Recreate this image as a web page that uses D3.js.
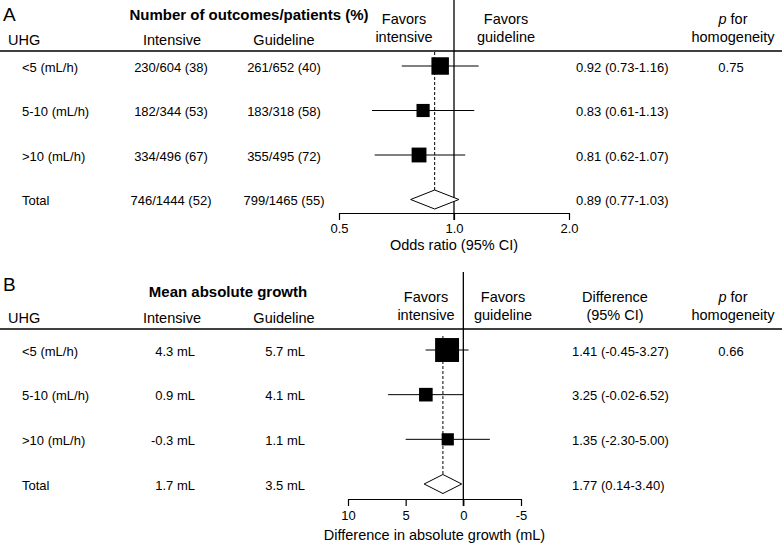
<!DOCTYPE html>
<html>
<head>
<meta charset="utf-8">
<script src="https://cdn.jsdelivr.net/npm/d3@7"></script>
<style>
  html, body { margin: 0; padding: 0; background: #fff; }
  svg { display: block; font-family: "Liberation Sans", Arial, sans-serif; }
</style>
</head>
<body>
<div id="chart"></div>
<script>
// rows
const subgroups = ["<5 (mL/h)", "5-10 (mL/h)", ">10 (mL/h)", "Total"];

// panel A: outcomes / odds ratios
const outcomesIntensive = ["230/604 (38)", "182/344 (53)", "334/496 (67)", "746/1444 (52)"];
const outcomesGuideline = ["261/652 (40)", "183/318 (58)", "355/495 (72)", "799/1465 (55)"];
const orEst = [0.92, 0.83, 0.81, 0.89];
const orLow = [0.73, 0.61, 0.62, 0.77];
const orHigh = [1.16, 1.13, 1.07, 1.03];
const orTicks = [0.5, 1.0, 2.0];
const pA = "0.75";

// panel B: absolute growth / differences
const growthIntensive = ["4.3 mL", "0.9 mL", "-0.3 mL", "1.7 mL"];
const growthGuideline = ["5.7 mL", "4.1 mL", "1.1 mL", "3.5 mL"];
const diffEst = [1.41, 3.25, 1.35, 1.77];
const diffLow = [-0.45, -0.02, -2.30, 0.14];
const diffHigh = [3.27, 6.52, 5.00, 3.40];
const diffTicks = [10, 5, 0, -5];
const pB = "0.66";

const W = 782, H = 547;
const headSize = "14.5px", cellSize = "13px";

const svg = d3.select("#chart").append("svg")
    .attr("width", W)
    .attr("height", H);

function txt(g, x, y, s, opts = {}) {
    return g.append("text")
        .attr("x", x)
        .attr("y", y)
        .attr("text-anchor", opts.anchor || "middle")
        .style("font-size", opts.size || headSize)
        .style("font-weight", opts.bold ? "bold" : null)
        .style("fill", "#000")
        .text(s);
}

function homogeneity(g, x, y1, y2) {
    const t = g.append("text").attr("x", x).attr("y", y1)
        .attr("text-anchor", "middle").style("font-size", headSize);
    t.append("tspan").style("font-style", "italic").text("p");
    t.append("tspan").text(" for");
    txt(g, x, y2, "homogeneity");
}

function drawRows(g, yRow, x, est, lo, hi, size, isLog) {
    // dashed line at overall estimate
    const last = subgroups.length - 1;
    g.append("line")
        .attr("x1", x(est[last])).attr("x2", x(est[last]))
        .attr("y1", yRow(subgroups[0]) - 14)
        .attr("y2", yRow(subgroups[last]) + 9.5)
        .attr("stroke", "#000")
        .attr("stroke-width", 1)
        .attr("stroke-dasharray", "3,2");

    subgroups.forEach((s, i) => {
        const y = yRow(s);
        if (i === last) {
            const h = 9.5;
            g.append("path")
                .attr("d", `M${x(lo[i])},${y} L${x(est[i])},${y - h} L${x(hi[i])},${y} L${x(est[i])},${y + h} Z`)
                .attr("fill", "#fff")
                .attr("stroke", "#000")
                .attr("stroke-width", 1);
            return;
        }
        g.append("line")
            .attr("x1", x(lo[i])).attr("x2", x(hi[i]))
            .attr("y1", y).attr("y2", y)
            .attr("stroke", "#000")
            .attr("stroke-width", 1);
        // inverse-variance style box size
        const w = isLog ? Math.log(hi[i] / lo[i]) : (hi[i] - lo[i]);
        const side = size / w;
        g.append("rect")
            .attr("x", x(est[i]) - side / 2)
            .attr("y", y - side / 2)
            .attr("width", side)
            .attr("height", side)
            .attr("fill", "#000");
    });
}

function drawAxis(g, x, ticks, yAxis, fmt, title, yTitle, yLabel) {
    const axis = d3.axisBottom(x)
        .tickValues(ticks)
        .tickSize(7)
        .tickSizeOuter(0)
        .tickFormat(fmt);
    const a = g.append("g")
        .attr("transform", `translate(0,${yAxis})`)
        .call(axis);
    a.select(".domain").attr("stroke", "#000").attr("stroke-width", 1.2);
    a.selectAll(".tick line").attr("stroke", "#000").attr("stroke-width", 1.2);
    a.selectAll(".tick text")
        .attr("y", yLabel - yAxis).attr("dy", null)
        .style("font-size", cellSize)
        .style("font-family", "'Liberation Sans', Arial, sans-serif")
        .attr("fill", "#000");
    txt(g, d3.mean(x.range()), yTitle, title);
}

// ---------- Panel A ----------
const gA = svg.append("g");
const xA = d3.scaleLog().domain([0.5, 2.0]).range([339, 569]);
const yA = d3.scalePoint().domain(subgroups).range([66, 199.5]);

txt(gA, 3, 21, "A", { anchor: "start", size: "19px" });
txt(gA, 249, 20, "Number of outcomes/patients (%)", { bold: true, size: "15px" });
txt(gA, 8, 45, "UHG", { anchor: "start" });
txt(gA, 172, 45, "Intensive");
txt(gA, 284, 45, "Guideline");
txt(gA, 404, 24, "Favors");
txt(gA, 404, 42, "intensive");
txt(gA, 506, 24, "Favors");
txt(gA, 506, 42, "guideline");
homogeneity(gA, 733, 24, 42);

gA.append("line").attr("x1", 0).attr("x2", W).attr("y1", 51).attr("y2", 51)
    .attr("stroke", "#000").attr("stroke-width", 1.3);

gA.append("line").attr("x1", xA(1)).attr("x2", xA(1)).attr("y1", 0).attr("y2", 220)
    .attr("stroke", "#000").attr("stroke-width", 1.3);

subgroups.forEach((s, i) => {
    const y = yA(s) + 5.5;
    txt(gA, 22, y, s, { anchor: "start", size: cellSize });
    txt(gA, 171, y, outcomesIntensive[i], { size: cellSize });
    txt(gA, 284, y, outcomesGuideline[i], { size: cellSize });
    txt(gA, 576, y, `${orEst[i].toFixed(2)} (${orLow[i].toFixed(2)}-${orHigh[i].toFixed(2)})`,
        { anchor: "start", size: cellSize });
    if (i === 0) txt(gA, 731, y, pA, { size: cellSize });
});

drawRows(gA, yA, xA, orEst, orLow, orHigh, 8.1, true);
drawAxis(gA, xA, orTicks, 213, d => d.toFixed(1), "Odds ratio (95% CI)", 250, 233);

// ---------- Panel B ----------
const gB = svg.append("g");
const xB = d3.scaleLinear().domain([10, -5]).range([348, 521]);
const yB = d3.scalePoint().domain(subgroups).range([350, 484]);

txt(gB, 3, 291, "B", { anchor: "start", size: "19px" });
txt(gB, 228, 297, "Mean absolute growth", { bold: true, size: "15px" });
txt(gB, 8, 323, "UHG", { anchor: "start" });
txt(gB, 172, 323, "Intensive");
txt(gB, 284, 323, "Guideline");
txt(gB, 426, 302, "Favors");
txt(gB, 426, 320, "intensive");
txt(gB, 503, 302, "Favors");
txt(gB, 503, 320, "guideline");
txt(gB, 615, 302, "Difference");
txt(gB, 615, 320, "(95% CI)");
homogeneity(gB, 733, 302, 320);

gB.append("line").attr("x1", 0).attr("x2", W).attr("y1", 329).attr("y2", 329)
    .attr("stroke", "#000").attr("stroke-width", 1.3);

gB.append("line").attr("x1", xB(0)).attr("x2", xB(0)).attr("y1", 272).attr("y2", 506)
    .attr("stroke", "#000").attr("stroke-width", 1.3);

subgroups.forEach((s, i) => {
    const y = yB(s) + 5.5;
    txt(gB, 22, y, s, { anchor: "start", size: cellSize });
    txt(gB, 195, y, growthIntensive[i], { anchor: "end", size: cellSize });
    txt(gB, 305, y, growthGuideline[i], { anchor: "end", size: cellSize });
    txt(gB, 572, y, `${diffEst[i].toFixed(2)} (${diffLow[i].toFixed(2)}-${diffHigh[i].toFixed(2)})`,
        { anchor: "start", size: cellSize });
    if (i === 0) txt(gB, 731, y, pB, { size: cellSize });
});

drawRows(gB, yB, xB, diffEst, diffLow, diffHigh, 89, false);
drawAxis(gB, xB, diffTicks, 499, d => String(d), "Difference in absolute growth (mL)", 540, 520);
</script>
</body>
</html>
